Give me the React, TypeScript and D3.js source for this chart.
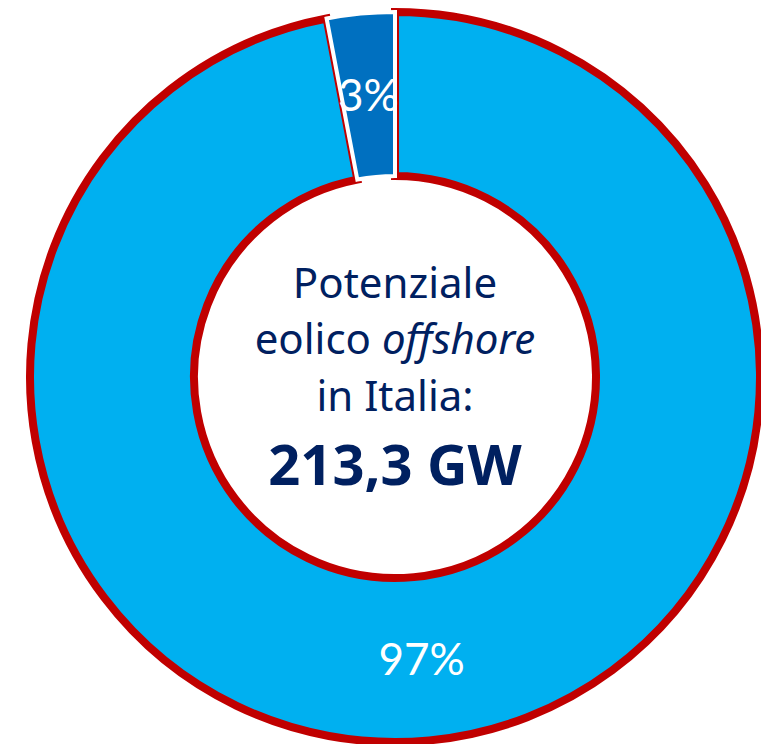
import React, { useEffect, useRef } from "react";
import * as d3 from "d3";

const categories = ["Altro", "Offshore"];
const shares = [97, 3];
const labels = ["97%", "3%"];
const centerLines = ["Potenziale", "eolico", "offshore", "in Italia:"];
const totalLabel = "213,3 GW";

const colors = ["#00B0F0", "#0070C0"];
const strokes = ["#C00000", "#FFFFFF"];
const strokeWidths = [8, 4];

const App = () => {
  const ref = useRef<SVGSVGElement | null>(null);

  useEffect(() => {
    const svg = d3.select(ref.current);
    svg.selectAll("*").remove();
    const width = 761;
    const height = 744;
    const cx = 395;
    const cy = 377;
    const outer = 365;
    const inner = 201;

    const g = svg.append("g").attr("transform", `translate(${cx}, ${cy})`);

    const data = categories.map((c, i) => ({ name: c, value: shares[i], label: labels[i], i }));
    const pie = d3.pie<any>().sort(null).value(d => d.value);
    const arc = d3.arc<any>().innerRadius(inner).outerRadius(outer);
    const labelArc = d3.arc<any>().innerRadius((inner + outer) / 2).outerRadius((inner + outer) / 2);

    const slices = pie(data);

    g.selectAll(".slice")
      .data(slices)
      .enter()
      .append("path")
      .attr("class", "slice")
      .attr("d", arc)
      .attr("fill", d => colors[d.data.i])
      .attr("stroke", d => strokes[d.data.i])
      .attr("stroke-width", d => strokeWidths[d.data.i])
      .attr("stroke-linejoin", "miter");

    g.selectAll(".lbl")
      .data(slices)
      .enter()
      .append("text")
      .attr("class", "lbl")
      .attr("transform", d => `translate(${labelArc.centroid(d)})`)
      .attr("dy", "0.36em")
      .attr("text-anchor", "middle")
      .attr("fill", "#FFFFFF")
      .style("font-family", "Lato, sans-serif")
      .style("font-size", "44px")
      .text(d => d.data.label);

    // centre caption
    const t = g.append("g")
      .attr("fill", "#002060")
      .attr("text-anchor", "middle")
      .style("font-family", "'Noto Sans', sans-serif");

    t.append("text").attr("y", -79).style("font-size", "42px").text(centerLines[0]);
    const l2 = t.append("text").attr("y", -23).style("font-size", "42px");
    l2.append("tspan").text(centerLines[1] + " ");
    l2.append("tspan").style("font-style", "italic").text(centerLines[2]);
    t.append("text").attr("y", 34).style("font-size", "42px").text(centerLines[3]);
    t.append("text").attr("y", 108).style("font-size", "56px").style("font-weight", "bold").text(totalLabel);

    svg.attr("width", width).attr("height", height);
  }, []);

  return (
    <svg
      ref={ref}
      width={761}
      height={744}
      style={{ position: "absolute", left: 0, top: 0, display: "block", background: "#fff" }}
    />
  );
};

export default App;
